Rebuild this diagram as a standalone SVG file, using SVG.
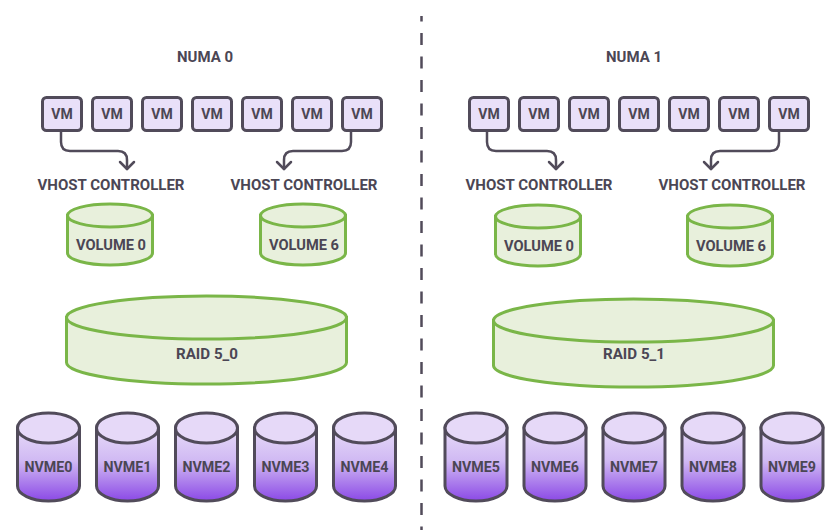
<svg xmlns="http://www.w3.org/2000/svg" width="830" height="530" viewBox="0 0 830 530">
  <defs>
    <style>
      .lbl { font-family: "Roboto", "Liberation Sans", sans-serif; font-weight: 700; fill: #4b4654; text-anchor: middle; }
      .vm rect { fill: #e9e0f9; stroke: #514b5a; stroke-width: 3; }
      .vm text { font-size: 14px; }
      .vol .body, .vol .top { fill: #e8f0dc; stroke: #7ab648; stroke-width: 3; }
      .nvme .body { fill: url(#nvmeGrad); stroke: #514b5a; stroke-width: 3; }
      .nvme .top { fill: #e6d9f8; stroke: #514b5a; stroke-width: 3; }
      .conn path { fill: none; stroke: #514b5a; stroke-width: 2.5; stroke-linecap: round; stroke-linejoin: round; }
      .divider { stroke: #514b5a; stroke-width: 2.5; stroke-dasharray: 12 11.5; stroke-dashoffset: 6.5; }
    </style>
    <linearGradient id="nvmeGrad" x1="0" y1="0" x2="0" y2="1">
      <stop offset="0" stop-color="#e6daf8"/>
      <stop offset="0.45" stop-color="#d0b9f3"/>
      <stop offset="1" stop-color="#8b49e6"/>
    </linearGradient>
  </defs>

  <rect width="830" height="530" fill="#ffffff"/>

  <!-- divider between the two NUMA domains -->
  <line class="divider" x1="421.5" y1="16" x2="421.5" y2="530"/>

  <!-- NUMA titles -->
  <text class="lbl" x="205" y="62" font-size="15" textLength="56" lengthAdjust="spacingAndGlyphs">NUMA 0</text>
  <text class="lbl" x="634" y="62" font-size="15" textLength="56" lengthAdjust="spacingAndGlyphs">NUMA 1</text>

  <!-- VMs, NUMA 0 -->
  <g id="vm0-1" class="vm"><rect x="42.5" y="97.5" width="39" height="33" rx="4"/><text class="lbl" x="62" y="118.5">VM</text></g>
  <g id="vm0-2" class="vm"><rect x="92.5" y="97.5" width="39" height="33" rx="4"/><text class="lbl" x="112" y="118.5">VM</text></g>
  <g id="vm0-3" class="vm"><rect x="142.5" y="97.5" width="39" height="33" rx="4"/><text class="lbl" x="162" y="118.5">VM</text></g>
  <g id="vm0-4" class="vm"><rect x="192.5" y="97.5" width="39" height="33" rx="4"/><text class="lbl" x="212" y="118.5">VM</text></g>
  <g id="vm0-5" class="vm"><rect x="242.5" y="97.5" width="39" height="33" rx="4"/><text class="lbl" x="262" y="118.5">VM</text></g>
  <g id="vm0-6" class="vm"><rect x="292.5" y="97.5" width="39" height="33" rx="4"/><text class="lbl" x="312" y="118.5">VM</text></g>
  <g id="vm0-7" class="vm"><rect x="342.5" y="97.5" width="39" height="33" rx="4"/><text class="lbl" x="362" y="118.5">VM</text></g>

  <!-- VMs, NUMA 1 -->
  <g id="vm1-1" class="vm"><rect x="469.5" y="97.5" width="39" height="33" rx="4"/><text class="lbl" x="489" y="118.5">VM</text></g>
  <g id="vm1-2" class="vm"><rect x="519.5" y="97.5" width="39" height="33" rx="4"/><text class="lbl" x="539" y="118.5">VM</text></g>
  <g id="vm1-3" class="vm"><rect x="569.5" y="97.5" width="39" height="33" rx="4"/><text class="lbl" x="589" y="118.5">VM</text></g>
  <g id="vm1-4" class="vm"><rect x="619.5" y="97.5" width="39" height="33" rx="4"/><text class="lbl" x="639" y="118.5">VM</text></g>
  <g id="vm1-5" class="vm"><rect x="669.5" y="97.5" width="39" height="33" rx="4"/><text class="lbl" x="689" y="118.5">VM</text></g>
  <g id="vm1-6" class="vm"><rect x="719.5" y="97.5" width="39" height="33" rx="4"/><text class="lbl" x="739" y="118.5">VM</text></g>
  <g id="vm1-7" class="vm"><rect x="769.5" y="97.5" width="39" height="33" rx="4"/><text class="lbl" x="789" y="118.5">VM</text></g>

  <!-- VM to vhost controller links -->
  <g id="connectors" class="conn">
    <path d="M61,132 V142 Q61,151 70,151 H118 Q127,151 127,160 V169"/>
    <path d="M120,162 L127,169 L134,162"/>
    <path d="M351,132 V142 Q351,151 342,151 H293 Q284,151 284,160 V169"/>
    <path d="M277,162 L284,169 L291,162"/>
    <path d="M487,132 V142 Q487,151 496,151 H547 Q556,151 556,160 V169"/>
    <path d="M549,162 L556,169 L563,162"/>
    <path d="M779,132 V142 Q779,151 770,151 H720 Q711,151 711,160 V169"/>
    <path d="M704,162 L711,169 L718,162"/>
  </g>

  <!-- vhost controller labels -->
  <g id="vhost0-a"><text class="lbl" x="111" y="190" font-size="15" textLength="147" lengthAdjust="spacingAndGlyphs">VHOST CONTROLLER</text></g>
  <g id="vhost0-b"><text class="lbl" x="304" y="190" font-size="15" textLength="147" lengthAdjust="spacingAndGlyphs">VHOST CONTROLLER</text></g>
  <g id="vhost1-a"><text class="lbl" x="539" y="190" font-size="15" textLength="147" lengthAdjust="spacingAndGlyphs">VHOST CONTROLLER</text></g>
  <g id="vhost1-b"><text class="lbl" x="732" y="190" font-size="15" textLength="147" lengthAdjust="spacingAndGlyphs">VHOST CONTROLLER</text></g>

  <!-- volumes -->
  <g id="volume0-a" class="vol">
    <path class="body" d="M67.5,215.5 V253 A42.5,12 0 0 0 152.5,253 V215.5 Z"/>
    <ellipse class="top" cx="110" cy="215.5" rx="42.5" ry="11.5"/>
    <text class="lbl" x="111" y="250" font-size="15" textLength="70" lengthAdjust="spacingAndGlyphs">VOLUME 0</text>
  </g>
  <g id="volume6-a" class="vol">
    <path class="body" d="M260.5,215.5 V253 A42.5,12 0 0 0 345.5,253 V215.5 Z"/>
    <ellipse class="top" cx="303" cy="215.5" rx="42.5" ry="11.5"/>
    <text class="lbl" x="304" y="250" font-size="15" textLength="70" lengthAdjust="spacingAndGlyphs">VOLUME 6</text>
  </g>
  <g id="volume0-b" class="vol">
    <path class="body" d="M495.5,216.5 V254 A42.5,12 0 0 0 580.5,254 V216.5 Z"/>
    <ellipse class="top" cx="538" cy="216.5" rx="42.5" ry="11.5"/>
    <text class="lbl" x="539" y="251" font-size="15" textLength="70" lengthAdjust="spacingAndGlyphs">VOLUME 0</text>
  </g>
  <g id="volume6-b" class="vol">
    <path class="body" d="M687.5,216.5 V254 A42.5,12 0 0 0 772.5,254 V216.5 Z"/>
    <ellipse class="top" cx="730" cy="216.5" rx="42.5" ry="11.5"/>
    <text class="lbl" x="731" y="251" font-size="15" textLength="70" lengthAdjust="spacingAndGlyphs">VOLUME 6</text>
  </g>

  <!-- RAID sets -->
  <g id="raid5-0" class="vol">
    <path class="body" d="M66.5,317.5 V362.5 A140,21.5 0 0 0 346.5,362.5 V317.5 Z"/>
    <ellipse class="top" cx="206.5" cy="317.5" rx="140" ry="21.5"/>
    <text class="lbl" x="207" y="359" font-size="15" textLength="62" lengthAdjust="spacingAndGlyphs">RAID 5_0</text>
  </g>
  <g id="raid5-1" class="vol">
    <path class="body" d="M493.5,320.5 V365.5 A140,21.5 0 0 0 773.5,365.5 V320.5 Z"/>
    <ellipse class="top" cx="633.5" cy="320.5" rx="140" ry="21.5"/>
    <text class="lbl" x="634" y="359" font-size="15" textLength="62" lengthAdjust="spacingAndGlyphs">RAID 5_1</text>
  </g>

  <!-- NVMe drives, NUMA 0 -->
  <g id="nvme0" class="nvme">
    <path class="body" d="M17.5,428 V486 A31,15 0 0 0 79.5,486 V428 Z"/>
    <ellipse class="top" cx="48.5" cy="428" rx="31" ry="15"/>
    <text class="lbl" x="48.5" y="472" font-size="15" textLength="48" lengthAdjust="spacingAndGlyphs">NVME0</text>
  </g>
  <g id="nvme1" class="nvme">
    <path class="body" d="M96.5,428 V486 A31,15 0 0 0 158.5,486 V428 Z"/>
    <ellipse class="top" cx="127.5" cy="428" rx="31" ry="15"/>
    <text class="lbl" x="127.5" y="472" font-size="15" textLength="48" lengthAdjust="spacingAndGlyphs">NVME1</text>
  </g>
  <g id="nvme2" class="nvme">
    <path class="body" d="M175.5,428 V486 A31,15 0 0 0 237.5,486 V428 Z"/>
    <ellipse class="top" cx="206.5" cy="428" rx="31" ry="15"/>
    <text class="lbl" x="206.5" y="472" font-size="15" textLength="48" lengthAdjust="spacingAndGlyphs">NVME2</text>
  </g>
  <g id="nvme3" class="nvme">
    <path class="body" d="M254.5,428 V486 A31,15 0 0 0 316.5,486 V428 Z"/>
    <ellipse class="top" cx="285.5" cy="428" rx="31" ry="15"/>
    <text class="lbl" x="285.5" y="472" font-size="15" textLength="48" lengthAdjust="spacingAndGlyphs">NVME3</text>
  </g>
  <g id="nvme4" class="nvme">
    <path class="body" d="M333.5,428 V486 A31,15 0 0 0 395.5,486 V428 Z"/>
    <ellipse class="top" cx="364.5" cy="428" rx="31" ry="15"/>
    <text class="lbl" x="364.5" y="472" font-size="15" textLength="48" lengthAdjust="spacingAndGlyphs">NVME4</text>
  </g>

  <!-- NVMe drives, NUMA 1 -->
  <g id="nvme5" class="nvme">
    <path class="body" d="M445,428 V486 A31,15 0 0 0 507,486 V428 Z"/>
    <ellipse class="top" cx="476" cy="428" rx="31" ry="15"/>
    <text class="lbl" x="476" y="472" font-size="15" textLength="48" lengthAdjust="spacingAndGlyphs">NVME5</text>
  </g>
  <g id="nvme6" class="nvme">
    <path class="body" d="M524,428 V486 A31,15 0 0 0 586,486 V428 Z"/>
    <ellipse class="top" cx="555" cy="428" rx="31" ry="15"/>
    <text class="lbl" x="555" y="472" font-size="15" textLength="48" lengthAdjust="spacingAndGlyphs">NVME6</text>
  </g>
  <g id="nvme7" class="nvme">
    <path class="body" d="M603,428 V486 A31,15 0 0 0 665,486 V428 Z"/>
    <ellipse class="top" cx="634" cy="428" rx="31" ry="15"/>
    <text class="lbl" x="634" y="472" font-size="15" textLength="48" lengthAdjust="spacingAndGlyphs">NVME7</text>
  </g>
  <g id="nvme8" class="nvme">
    <path class="body" d="M682,428 V486 A31,15 0 0 0 744,486 V428 Z"/>
    <ellipse class="top" cx="713" cy="428" rx="31" ry="15"/>
    <text class="lbl" x="713" y="472" font-size="15" textLength="48" lengthAdjust="spacingAndGlyphs">NVME8</text>
  </g>
  <g id="nvme9" class="nvme">
    <path class="body" d="M761,428 V486 A31,15 0 0 0 823,486 V428 Z"/>
    <ellipse class="top" cx="792" cy="428" rx="31" ry="15"/>
    <text class="lbl" x="792" y="472" font-size="15" textLength="48" lengthAdjust="spacingAndGlyphs">NVME9</text>
  </g>
</svg>
